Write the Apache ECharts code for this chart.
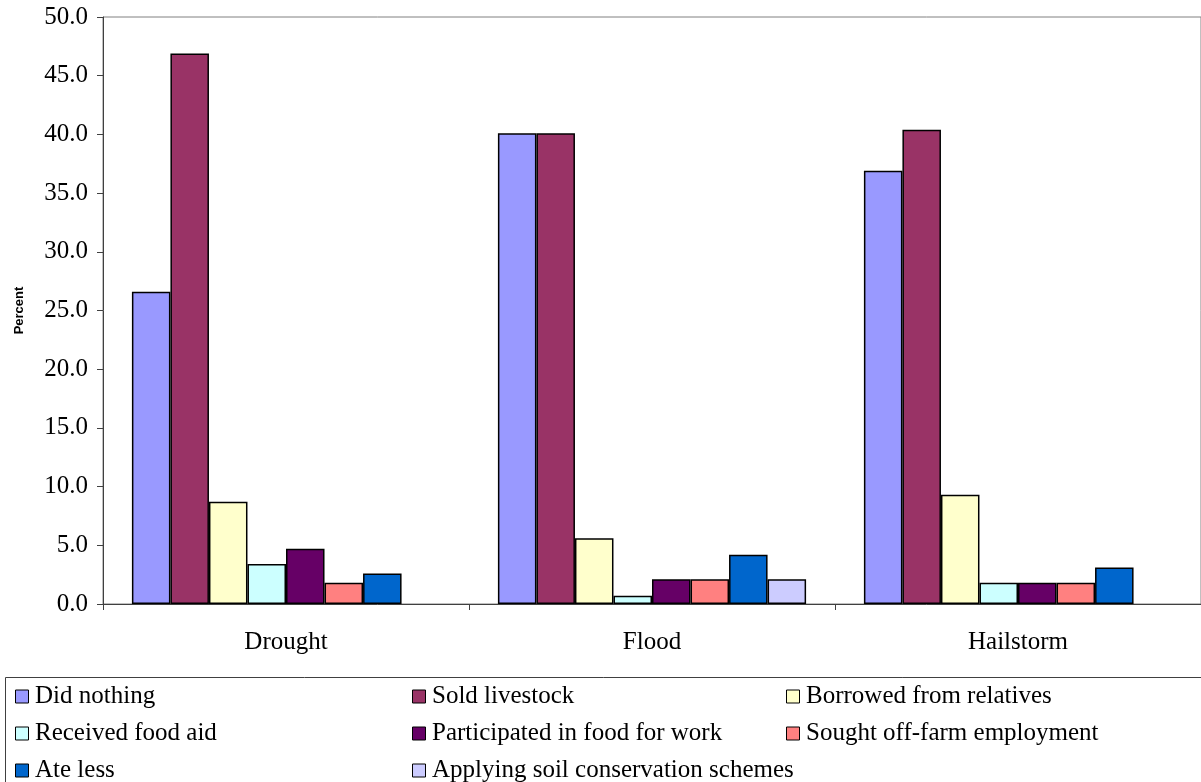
<!DOCTYPE html>
<html>
<head>
<meta charset="utf-8">
<title>Coping strategies by shock type</title>
<script src="https://cdn.jsdelivr.net/npm/echarts@6/dist/echarts.min.js"></script>
<style>
  html, body { margin: 0; padding: 0; background: #ffffff; }
  #chart { width: 1201px; height: 782px; }
</style>
</head>
<body>
<div id="chart"></div>
<script>
// Shock types on the category axis
const categories = ['Drought', 'Flood', 'Hailstorm'];

// Share of households (%) using each coping strategy, per shock type
const didNothing      = [26.6, 40.1, 36.9];
const soldLivestock   = [46.9, 40.1, 40.4];
const borrowed        = [8.7, 5.6, 9.3];
const foodAid         = [3.4, 0.7, 1.8];
const foodForWork     = [4.7, 2.1, 1.8];
const offFarm         = [1.8, 2.1, 1.8];
const ateLess         = [2.6, 4.2, 3.1];
const soilConservation = [null, 2.1, null];

// Y axis scale
const yMin = 0;
const yMax = 50;
const yStep = 5;

const seriesDefs = [
  { name: 'Did nothing', data: didNothing, color: '#9999FF' },
  { name: 'Sold livestock', data: soldLivestock, color: '#993366' },
  { name: 'Borrowed from relatives', data: borrowed, color: '#FFFFCC' },
  { name: 'Received food aid', data: foodAid, color: '#CCFFFF' },
  { name: 'Participated in food for work', data: foodForWork, color: '#660066' },
  { name: 'Sought off-farm employment', data: offFarm, color: '#FF8080' },
  { name: 'Ate less', data: ateLess, color: '#0066CC' },
  { name: 'Applying soil conservation schemes', data: soilConservation, color: '#CCCCFF' }
];

const serif = 'Liberation Serif';

// Legend table: entries fill three columns, row by row
const legendColumnsX = [15, 412, 786];
const legendRowsY = [684, 721, 758];
const legendRowHeight = 24;
const legendTextOffset = 20;

// Legend swatches come from the legend component; their captions are set as
// plain text beside them so the serif face is used reliably.
const legendBase = {
  orient: 'horizontal',
  padding: 0,
  itemWidth: 13,
  itemHeight: 13,
  icon: 'rect',
  selectedMode: false,
  formatter: () => ' ',
  textStyle: { fontFamily: serif, fontSize: 25, color: '#000', lineHeight: legendRowHeight },
  itemStyle: { borderColor: '#000', borderWidth: 1 }
};

const legends = seriesDefs.map((s, i) => Object.assign({}, legendBase, {
  left: legendColumnsX[i % 3],
  top: legendRowsY[Math.floor(i / 3)],
  data: [s.name]
}));

const legendCaptions = seriesDefs.map((s, i) => ({
  type: 'text',
  x: legendColumnsX[i % 3] + legendTextOffset,
  y: legendRowsY[Math.floor(i / 3)] + legendRowHeight / 2,
  silent: true,
  style: {
    text: s.name,
    font: '25px "Liberation Serif", "Times New Roman", serif',
    fill: '#000',
    align: 'left',
    verticalAlign: 'middle'
  }
}));

const chart = echarts.init(document.getElementById('chart'), null, { renderer: 'canvas' });

chart.setOption({
  animation: false,
  backgroundColor: '#ffffff',
  textStyle: { fontFamily: serif },
  grid: {
    left: 103, top: 17, right: -2, bottom: 178,
    show: true, borderColor: '#808080', borderWidth: 1, backgroundColor: 'transparent'
  },
  xAxis: {
    type: 'category',
    data: categories,
    axisLine: { lineStyle: { color: '#404040', width: 1 } },
    axisTick: { show: true, length: 6, inside: false, lineStyle: { color: '#404040' } },
    axisLabel: { fontFamily: serif, fontSize: 25, color: '#000', margin: 26 },
    splitLine: { show: false }
  },
  yAxis: {
    type: 'value',
    min: yMin, max: yMax, interval: yStep,
    name: 'Percent',
    nameLocation: 'middle',
    nameGap: 77,
    nameRotate: 90,
    nameTextStyle: { fontFamily: 'Liberation Sans', fontSize: 13, fontWeight: 'bold', color: '#000' },
    axisLine: { show: true, lineStyle: { color: '#404040', width: 1 } },
    axisTick: { show: true, length: 6, lineStyle: { color: '#404040' } },
    axisLabel: {
      fontFamily: serif, fontSize: 25, color: '#000', margin: 15,
      formatter: v => v.toFixed(1)
    },
    splitLine: { show: false }
  },
  legend: legends,
  graphic: [
    {
      type: 'rect',
      shape: { x: 5.5, y: 677.5, width: 1200, height: 120 },
      style: { fill: 'none', stroke: '#404040', lineWidth: 1 },
      silent: true, z: 0
    }
  ].concat(legendCaptions),
  series: seriesDefs.map(s => ({
    type: 'bar',
    name: s.name,
    data: s.data,
    barGap: '0%',
    barCategoryGap: '15.8%',
    itemStyle: { color: s.color, borderColor: '#000', borderWidth: 1.5 },
    emphasis: { disabled: true }
  }))
});
</script>
</body>
</html>
